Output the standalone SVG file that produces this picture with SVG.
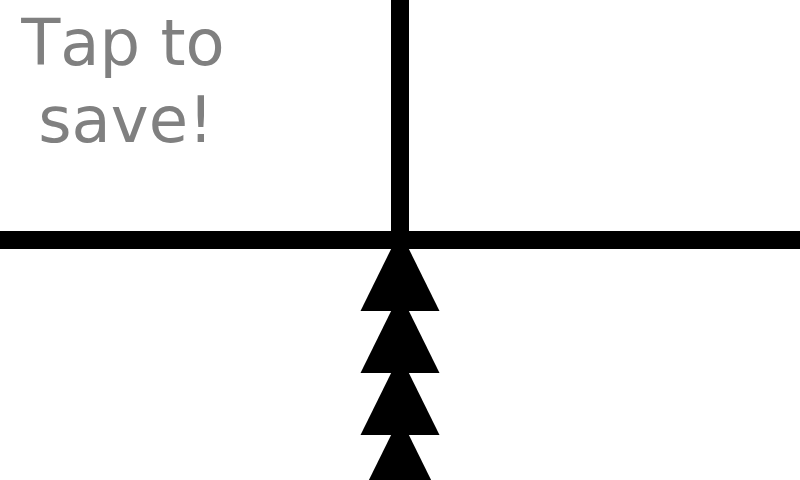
<svg xmlns="http://www.w3.org/2000/svg" width="800" height="480" viewBox="0 0 800 480">
<style>
.bar{stroke:#000;stroke-width:18;fill:none}
.head{fill:#000}
.label{font-family:"DejaVu Sans",sans-serif;font-size:64px;fill:#808080;text-anchor:middle;font-kerning:none}
</style>
<rect width="800" height="480" fill="#fff"/>
<g id="label-node">
<text class="label" x="123" y="65">Tap to</text>
<text class="label" x="126" y="142">save!</text>
</g>
<g id="connectors">
<line class="bar" x1="400" y1="0" x2="400" y2="240"/>
<line class="bar" x1="0" y1="240" x2="800" y2="240"/>
<polygon class="head" points="400,231 439.5,311 360.5,311"/>
<polygon class="head" points="400,293 439.5,373 360.5,373"/>
<polygon class="head" points="400,355 439.5,435 360.5,435"/>
<polygon class="head" points="400,417 439.5,497 360.5,497"/>
</g>
</svg>
